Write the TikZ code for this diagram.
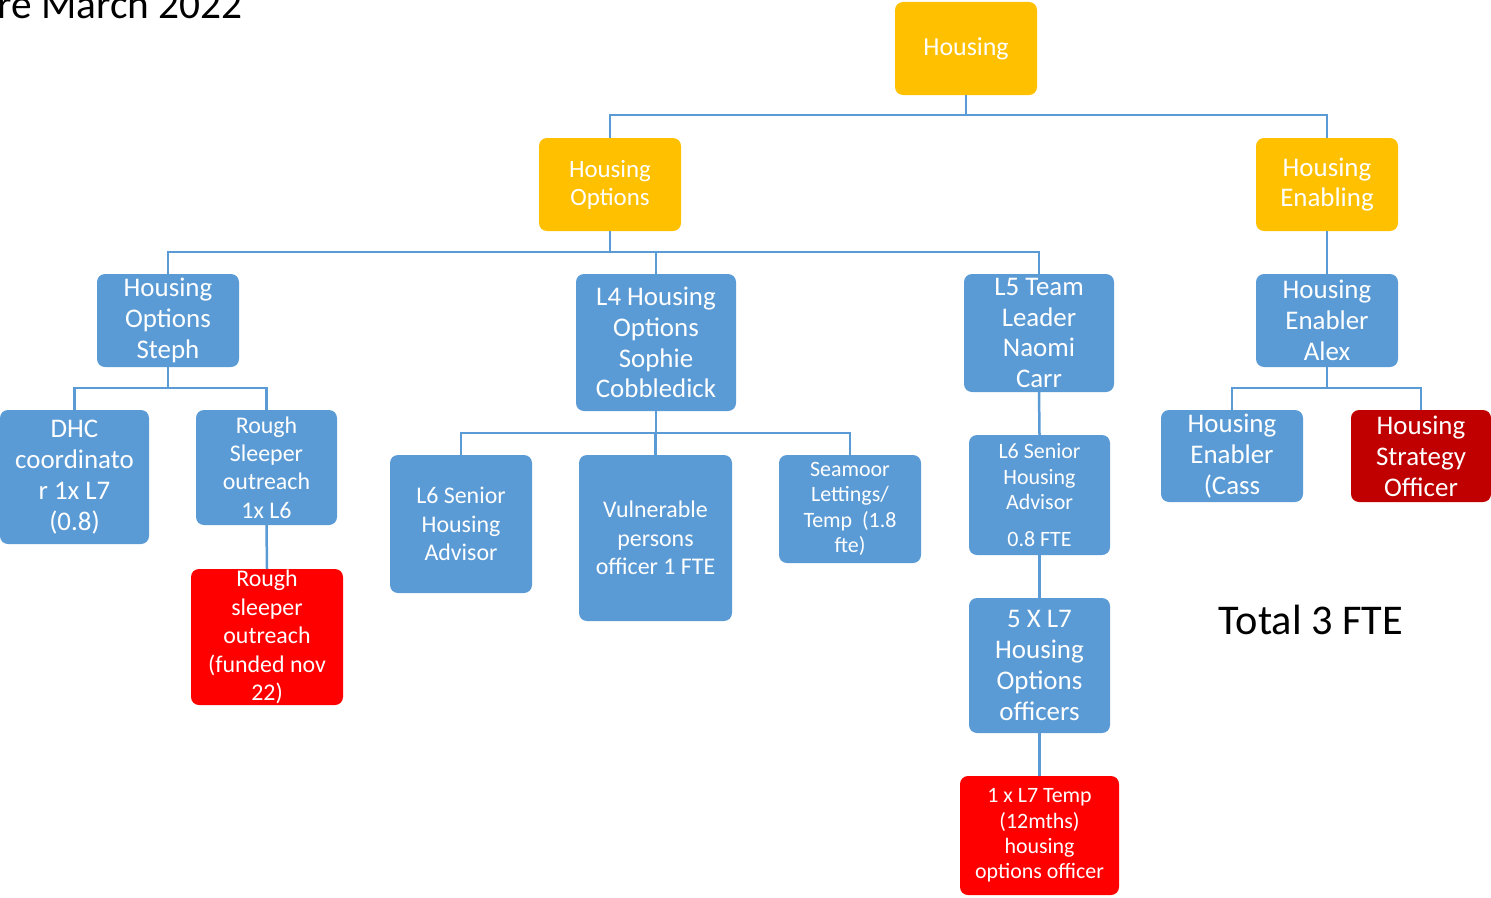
\documentclass[tikz,border=0pt]{standalone}
\usepackage{fontspec}
\setmainfont{Carlito}
\definecolor{optblue}{HTML}{5B9BD5}
\definecolor{optgold}{HTML}{FFC000}
\definecolor{optred}{HTML}{FF0000}
\definecolor{optdark}{HTML}{C00000}
\begin{document}
\begin{tikzpicture}[x=1bp,y=-1bp,
    box/.style={rounded corners=8bp, text=white, align=center, inner sep=0pt},
    bluebox/.style={box, fill=optblue},
    goldbox/.style={box, fill=optgold},
    redbox/.style={box, fill=optred},
    darkbox/.style={box, fill=optdark},
    big/.style={font=\fontsize{27}{31}\selectfont},
    mid/.style={font=\fontsize{24}{28.5}\selectfont},
    small/.style={font=\fontsize{22}{25.5}\selectfont},
    conn/.style={draw=optblue, line width=2.5bp}]
\useasboundingbox (0,0) rectangle (1491,897);

% title, cut off at the left
\node[anchor=base east, font=\fontsize{41.5}{48}\selectfont] (title) at (246,18) {re March 2022};

% top levels
\node[goldbox, font=\fontsize{26}{30}\selectfont, minimum width=142bp, minimum height=93bp] (housing) at (966,48.5) {Housing};
\node[goldbox, font=\fontsize{25}{28}\selectfont, minimum width=142bp, minimum height=93bp] (hopt) at (610,184.5) {Housing\\Options};
\node[goldbox, big, minimum width=142bp, minimum height=93bp] (henab) at (1327,184.5) {Housing\\Enabling};

% team leaders
\node[bluebox, big, minimum width=142bp, minimum height=93bp] (steph) at (168,320.5) {Housing\\Options\\Steph};
\node[bluebox, big, minimum width=160bp, minimum height=137bp] (sophie) at (656,342.5) {L4 Housing\\Options\\Sophie\\Cobbledick};
\node[bluebox, big, minimum width=150bp, minimum height=118bp] (naomi) at (1039,333) {L5 Team\\Leader\\Naomi\\Carr};
\node[bluebox, big, minimum width=142bp, minimum height=93bp] (alex) at (1327,320.5) {Housing\\Enabler\\Alex};

% under Steph
\node[bluebox, big, minimum width=149bp, minimum height=134bp] (dhc) at (74.5,477) {DHC\\coordinato\\r 1x L7\\(0.8)};
\node[bluebox, mid, minimum width=141bp, minimum height=115bp] (rough) at (266.5,467.5) {Rough\\Sleeper\\outreach\\1x L6};
\node[redbox, mid, minimum width=152bp, minimum height=136bp] (roughnew) at (267,637) {Rough\\sleeper\\outreach\\(funded nov\\22)};

% under Sophie
\node[bluebox, mid, minimum width=142bp, minimum height=138bp] (senior) at (461,524) {L6 Senior\\Housing\\Advisor};
\node[bluebox, mid, minimum width=153bp, minimum height=166bp] (vuln) at (655.5,538) {Vulnerable\\persons\\officer 1 FTE};
\node[bluebox, small, minimum width=142bp, minimum height=108bp] (seamoor) at (850,509) {Seamoor\\Lettings/\\Temp~~(1.8\\fte)};

% under Naomi
\node[bluebox, small, minimum width=141bp, minimum height=120bp] (seniorb) at (1039.5,495) {L6 Senior\\Housing\\Advisor\\[11bp]0.8 FTE};
\node[bluebox, big, minimum width=141bp, minimum height=135bp] (officers) at (1039.5,665.5) {5 X L7\\Housing\\Options\\officers};
\node[redbox, small, minimum width=159bp, minimum height=119bp] (temp) at (1039.5,835.5) {1 x L7 Temp\\(12mths)\\housing\\options officer};

% under Alex
\node[bluebox, big, minimum width=142bp, minimum height=92bp] (cass) at (1232,456) {Housing\\Enabler\\(Cass};
\node[darkbox, big, minimum width=140bp, minimum height=92bp] (strategy) at (1421,456) {Housing\\Strategy\\Officer};

\node[font=\fontsize{42.5}{48}\selectfont] (total) at (1311,620) {Total 3 FTE};

% connectors
\draw[conn] (housing.south) -- ++(0,20) -| (hopt.north);
\draw[conn] (housing.south) -- ++(0,20) -| (henab.north);
\draw[conn] (hopt.south) -- ++(0,21) -| (steph.north);
\draw[conn] (hopt.south) -- ++(0,21) -| (sophie.north);
\draw[conn] (hopt.south) -- ++(0,21) -| (naomi.north);
\draw[conn] (henab.south) -- (alex.north);
\draw[conn] (steph.south) -- ++(0,21) -| (dhc.north);
\draw[conn] (steph.south) -- ++(0,21) -| (rough.north);
\draw[conn] (rough.south) -- (roughnew.north);
\draw[conn] (sophie.south) -- ++(0,22) -| (senior.north);
\draw[conn] (sophie.south) -- ++(0,22) -| (vuln.north);
\draw[conn] (sophie.south) -- ++(0,22) -| (seamoor.north);
\draw[conn] (naomi.south) -- (seniorb.north);
\draw[conn] (seniorb.south) -- (officers.north);
\draw[conn] (officers.south) -- (temp.north);
\draw[conn] (alex.south) -- ++(0,21) -| (cass.north);
\draw[conn] (alex.south) -- ++(0,21) -| (strategy.north);
\end{tikzpicture}
\end{document}
